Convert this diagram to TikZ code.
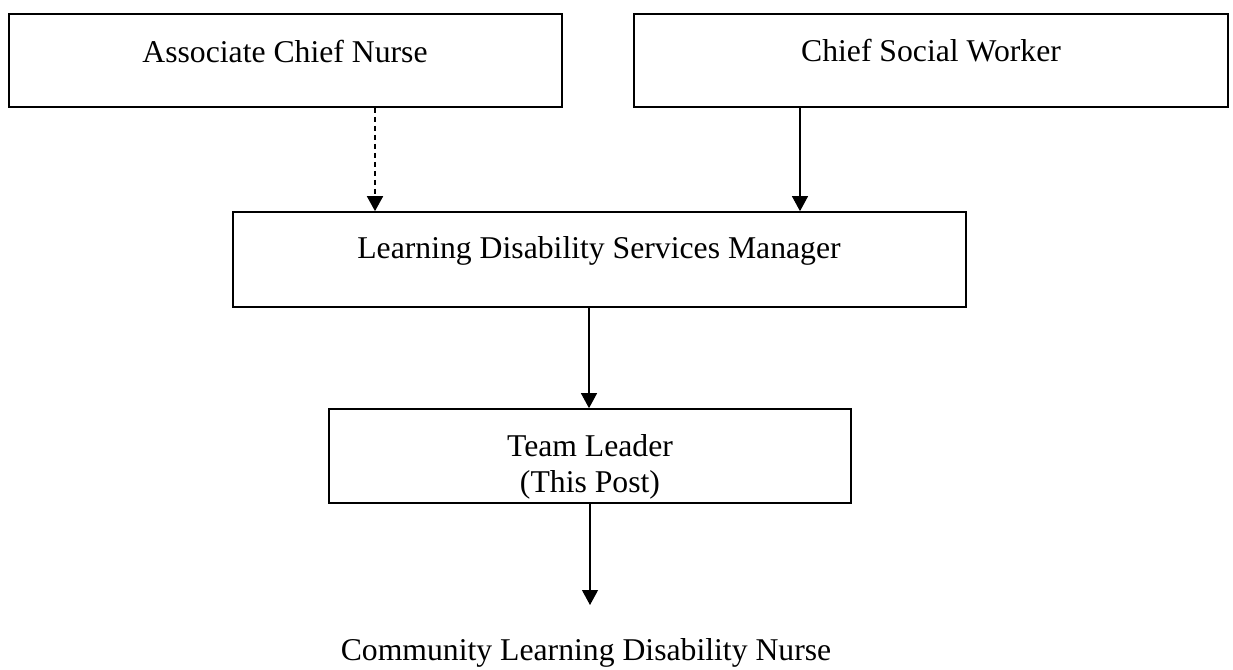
\documentclass[tikz,border=0pt]{standalone}
\usepackage{fontspec}
\setmainfont{Liberation Serif}
\usetikzlibrary{arrows.meta}
\tikzset{
  box/.style={draw=black, line width=1.7pt, rectangle, inner sep=0pt},
  lbl/.style={font=\fontsize{31.7}{38}\selectfont, inner sep=0pt, anchor=base},
  conn/.style={line width=1.1pt, -{Triangle[length=15pt,width=16pt]}},
  dconn/.style={line width=1.8pt, dash pattern=on 5.5pt off 3.5pt, -{Triangle[length=15pt,width=16pt]}}
}
\begin{document}
\begin{tikzpicture}[x=1pt,y=-1pt]
\useasboundingbox (0,0) rectangle (1233,669);
\node[box, minimum width=553pt, minimum height=93pt] (b1) at (285.5,60.5) {};
\node[box, minimum width=594pt, minimum height=93pt] (b2) at (931,60.5) {};
\node[box, minimum width=733pt, minimum height=95pt] (b3) at (599.5,259.5) {};
\node[box, minimum width=522pt, minimum height=94pt] (b4) at (590,456) {};
\node[lbl] (t1) at (285,63) {Associate Chief Nurse};
\node[lbl] (t2) at (931,62) {Chief Social Worker};
\node[lbl] (t3) at (599,258) {Learning Disability Services Manager};
\node[lbl] (t4a) at (590,456) {Team Leader};
\node[lbl] (t4b) at (590,492) {(This Post)};
\node[lbl] (t5) at (586,660) {Community Learning Disability Nurse};
\coordinate (e5) at (590,605);
\draw[dconn] (b1.south -| 375,0) -- (375,0 |- b3.north);
\draw[conn] (b2.south -| 800,0) -- (800,0 |- b3.north);
\draw[conn] (b3.south -| 589,0) -- (589,0 |- b4.north);
\draw[conn] (b4.south -| 590,0) -- (e5);
\end{tikzpicture}
\end{document}
